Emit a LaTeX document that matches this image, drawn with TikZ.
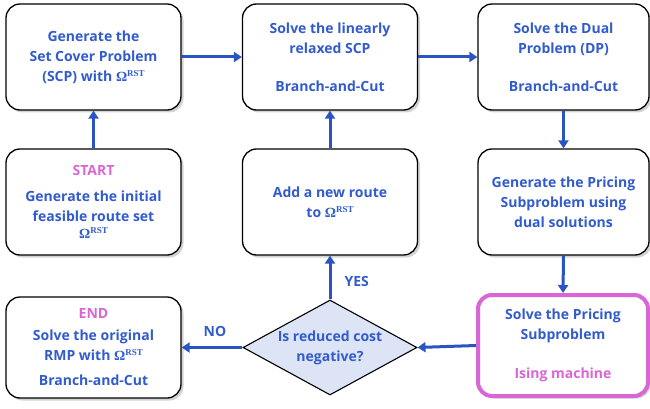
\documentclass[tikz,border=0pt]{standalone}
\usepackage{fontspec}
\setmainfont{Open Sans}
\newfontfamily\omfont{Liberation Serif}
\usetikzlibrary{arrows.meta,shapes.geometric,shadows}
\definecolor{txtblue}{RGB}{50,92,205}
\definecolor{arrblue}{RGB}{42,84,196}
\definecolor{pinkc}{RGB}{217,102,214}
\definecolor{diafill}{RGB}{220,228,245}
\newcommand{\OmR}{{\omfont\bfseries Ω\raisebox{5pt}{\fontsize{9}{9}\selectfont RST}}}
\tikzset{
  box/.style={draw=black, line width=1.3pt, rounded corners=14pt, fill=white,
    minimum width=175pt, minimum height=106pt, align=center,
    text=txtblue, font=\fontsize{14}{20}\selectfont\bfseries,
    drop shadow={shadow xshift=2.5pt, shadow yshift=-2.5pt, opacity=0.35}},
  pinkbox/.style={box, draw=pinkc, line width=4pt},
  dia/.style={diamond, draw=black, line width=1.1pt, fill=diafill, aspect=1.83,
    minimum width=174pt, minimum height=95pt, inner sep=0pt, align=center,
    text=txtblue, font=\fontsize{14}{20}\selectfont\bfseries},
  arr/.style={draw=arrblue, line width=3pt, -{Triangle[length=8pt,width=10pt]}},
  lbl/.style={text=txtblue, font=\fontsize{14}{16}\selectfont\bfseries},
  pk/.style={text=pinkc}
}
\begin{document}
\begin{tikzpicture}[x=1pt,y=-1pt]
\useasboundingbox (0,0) rectangle (650,409);
\node[box] (scp) at (93.5,57) {Generate the\\Set Cover Problem\\(SCP) with \OmR};
\node[box] (start) at (93.5,202) {\textcolor{pinkc}{START}\\[6pt]Generate the initial\\feasible route set\\[-3pt]\OmR};
\node[box] (lin) at (330,57) {Solve the linearly\\relaxed SCP\\[18pt]Branch-and-Cut};
\node[box, minimum width=171pt] (dual) at (563.5,57) {Solve the Dual\\Problem (DP)\\[18pt]Branch-and-Cut};
\node[box] (add) at (330,202) {Add a new route\\to \OmR};
\node[box, minimum width=171pt] (gen) at (563.5,202) {Generate the Pricing\\Subproblem using\\dual solutions};
\node[box, minimum height=101pt] (end) at (93.5,347.5) {\textcolor{pinkc}{END}\\[2pt]Solve the original\\RMP with \OmR\\[5pt]Branch-and-Cut};
\node[pinkbox, minimum width=170pt, minimum height=101pt] (ising) at (563,345.5) {Solve the Pricing\\Subproblem\\[19pt]\textcolor{pinkc}{Ising machine}};
\node[dia] (dec) at (330,347.5) {Is reduced cost\\negative?};
\draw[arr] (start) -- (scp);
\draw[arr] (scp) -- (lin);
\draw[arr] (lin) -- (dual);
\draw[arr] (dual) -- (gen);
\draw[arr] (gen.south) -- (ising.north);
\draw[arr] (ising.west) -- (dec.east);
\draw[arr] (dec.north) -- (add.south);
\draw[arr] (add) -- (lin);
\draw[arr] (dec.west) -- (end.east);
\node[lbl, anchor=west] (yes) at (341,281) {YES};
\node[lbl] (no) at (215,331) {NO};
\end{tikzpicture}
\end{document}
